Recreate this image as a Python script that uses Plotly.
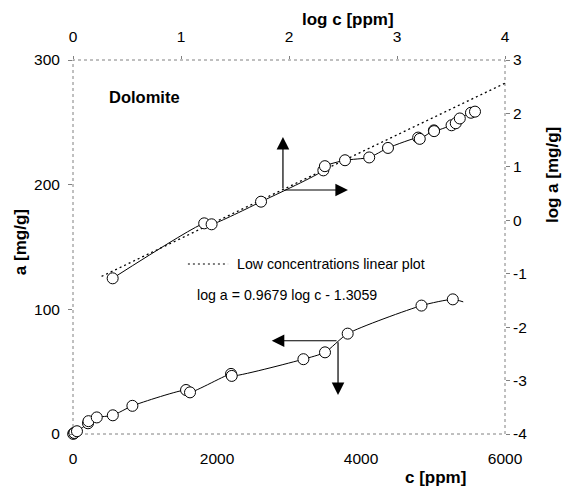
import plotly.graph_objects as go

# ---- data: concentration c [ppm] and adsorption a [mg/g] ----
c_ppm = [2.33, 16.4, 19.2, 55.1, 208, 215, 330, 553, 825, 1570, 1625,
         2195, 2205, 3200, 3500, 3815, 4840, 5275]
a_mgg = [0.082, 0.877, 0.841, 2.23, 8.6, 10.3, 13.3, 15.0, 22.6, 35.3, 33.4,
         48.2, 46.6, 60.0, 65.5, 80.5, 103.0, 108.0]
# smoothed line of the linear plot runs slightly past the last point
tail_c = [5420]
tail_a = [106.0]

# low concentration linear fit: log a = 0.9679 log c - 1.3059 (end points)
fit_c = [1.84, 10000]
fit_a = [0.0891, 368.0]

x_ticks = [0, 2000, 4000, 6000]
y_ticks = [0, 100, 200, 300]
logc_vals = [1, 10, 100, 1000, 10000]
logc_text = ["0", "1", "2", "3", "4"]
loga_vals = [1e-4, 1e-3, 1e-2, 1e-1, 1, 10, 100, 1000]
loga_text = ["-4", "-3", "-2", "-1", "0", "1", "2", "3"]

FONT = "Liberation Sans, Arial, sans-serif"

fig = go.Figure()

# dotted fit line (log axes)
fig.add_trace(go.Scatter(x=fit_c, y=fit_a, xaxis="x2", yaxis="y2", mode="lines",
                         line=dict(color="black", width=1.3, dash="2px,3px"),
                         showlegend=False, hoverinfo="skip"))
# log-log curve
fig.add_trace(go.Scatter(x=c_ppm, y=a_mgg, xaxis="x2", yaxis="y2", mode="lines+markers",
                         line=dict(color="black", width=1, shape="spline", smoothing=0.6),
                         marker=dict(symbol="circle", size=11, color="white",
                                     line=dict(color="black", width=1)),
                         cliponaxis=False, showlegend=False))
# linear curve: line then markers
fig.add_trace(go.Scatter(x=c_ppm + tail_c, y=a_mgg + tail_a, mode="lines",
                         line=dict(color="black", width=1, shape="spline", smoothing=0.6),
                         showlegend=False, hoverinfo="skip"))
fig.add_trace(go.Scatter(x=c_ppm, y=a_mgg, mode="markers",
                         marker=dict(symbol="circle", size=11, color="white",
                                     line=dict(color="black", width=1)),
                         cliponaxis=False, showlegend=False))

tickfont = dict(family=FONT, size=15.5, color="black")

fig.update_layout(
    width=564, height=488,
    margin=dict(l=73, r=59, t=60, b=54),
    paper_bgcolor="white", plot_bgcolor="white",
    font=dict(family=FONT, color="black"),
    xaxis=dict(range=[0, 6000], tickvals=x_ticks, ticks="", showgrid=False,
               zeroline=False, showline=False, tickfont=tickfont,
               ticklabelstandoff=13),
    yaxis=dict(range=[0, 300], tickvals=y_ticks, ticks="outside", ticklen=4,
               tickcolor="#808080", showgrid=False, zeroline=False, showline=False,
               tickfont=tickfont, ticklabelstandoff=5),
    xaxis2=dict(type="log", range=[0, 4], overlaying="x", side="top",
                tickvals=logc_vals, ticktext=logc_text, ticks="outside", ticklen=3,
                tickcolor="#808080", showgrid=False, zeroline=False, showline=False,
                tickfont=tickfont, ticklabelstandoff=8),
    yaxis2=dict(type="log", range=[-4, 3], overlaying="y", side="right",
                tickvals=loga_vals, ticktext=loga_text, ticks="outside", ticklen=4,
                tickcolor="#808080", showgrid=False, zeroline=False, showline=False,
                tickfont=tickfont, ticklabelstandoff=0),
)

# dotted gray frame
fig.add_shape(type="rect", xref="paper", yref="paper", x0=0, y0=0, x1=1, y1=1,
              line=dict(color="#808080", width=1, dash="dot"), layer="below")
# legend sample for dotted line
fig.add_shape(type="line", xref="paper", yref="paper", x0=0.266, x1=0.359,
              y0=0.4545, y1=0.4545, line=dict(color="black", width=1.2, dash="2px,3px"))

ann = []
def txt(text, x, y, size, xanchor="center", angle=0, bold=False):
    ann.append(dict(text=("<b>%s</b>" % text) if bold else text, x=x, y=y,
                    xref="paper", yref="paper", showarrow=False, xanchor=xanchor,
                    yanchor="middle", textangle=angle,
                    font=dict(family=FONT, size=size, color="black")))

txt("log c [ppm]", 0.6366, 1.107, 17, bold=True)
txt("c [ppm]", 0.838, -0.117, 17, bold=True)
txt("a [mg/g]", -0.1227, 0.513, 17, angle=-90, bold=True)
txt("log a [mg/g]", 1.109, 0.6925, 17, angle=-90, bold=True)
txt("Dolomite", 0.0787, 0.902, 16.5, xanchor="left", bold=True)
txt("Low concentrations linear plot", 0.375, 0.4545, 14.2, xanchor="left")
txt("log a = 0.9679 log c - 1.3059", 0.2824, 0.3717, 14.2, xanchor="left")

def arrow(xr, yr, x, y, ax, ay):
    ann.append(dict(text="", x=x, y=y, ax=ax, ay=ay, xref=xr, yref=yr,
                    axref=xr, ayref=yr, showarrow=True, arrowhead=2,
                    arrowsize=2.1, arrowwidth=1.2, arrowcolor="black", standoff=0,
                    startstandoff=0))

# arrows pointing to the log axes (upper curve), coordinates in log units
arrow("x2", "y2", 1.944, 1.56, 1.944, 0.567)
arrow("x2", "y2", 2.546, 0.567, 1.944, 0.567)
# arrows pointing to the linear axes (lower curve)
arrow("x", "y", 2760, 74.8, 3681, 74.8)
arrow("x", "y", 3681, 31.3, 3681, 74.8)

fig.update_layout(annotations=ann)
fig.write_html("out.html")
